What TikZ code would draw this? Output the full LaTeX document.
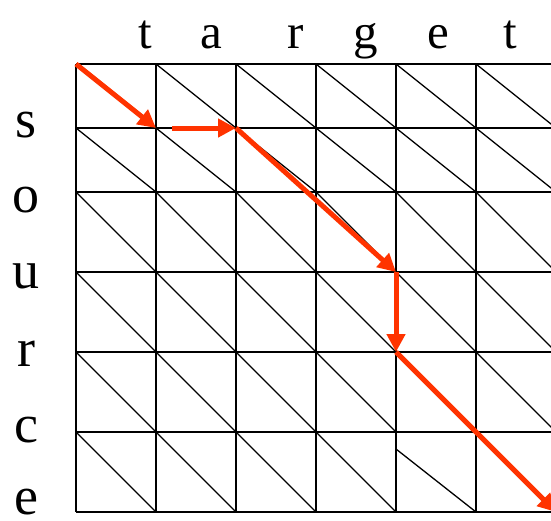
\documentclass[tikz,border=0pt]{standalone}
\usepackage{fontspec}
\setmainfont{Liberation Serif}
\usetikzlibrary{arrows.meta}
\definecolor{PathRed}{HTML}{FF3300}

\begin{document}
\begin{tikzpicture}[
    x=1pt, y=-1pt,
    gridline/.style={black, line width=2pt},
    diag/.style={black, line width=1.3pt},
    arr/.style={-{Triangle[length=18pt, width=18pt]}, line width=5pt, color=PathRed},
    topletter/.style={anchor=base, inner sep=0pt, font=\fontsize{49}{49}\selectfont},
    sideletter/.style={anchor=base, inner sep=0pt, font=\fontsize{54}{54}\selectfont}
]
\useasboundingbox (0,0) rectangle (551,520);
\clip (0,0) rectangle (551,520);

\foreach \i/\x in {0/76,1/156,2/236,3/316,4/396,5/476,6/556}
  \foreach \j/\y in {0/64,1/128,2/192,3/272,4/352,5/432,6/512}
    \coordinate (g-\i-\j) at (\x,\y);

\foreach \i in {0,...,6}
  \draw[gridline] (g-\i-0) -- (g-\i-6);
\foreach \j in {0,...,6}
  \draw[gridline] (g-0-\j) -- (g-6-\j);

\foreach \i/\ii in {0/1,1/2,2/3,3/4,4/5,5/6}
  \foreach \j/\jj in {0/1,1/2,2/3,3/4,4/5}
    \draw[diag] (g-\i-\j) -- (g-\ii-\jj);
\foreach \i/\ii in {0/1,1/2,2/3,3/4,5/6}
  \draw[diag] (g-\i-5) -- (g-\ii-6);
\draw[diag] ([yshift=-17pt]g-4-5) -- (g-5-6);

\draw[arr] (g-0-0) -- (g-1-1);
\draw[arr, shorten <=16pt] (g-1-1) -- (g-2-1);
\draw[arr] (g-2-1) -- (g-4-3);
\draw[arr] (g-4-3) -- (g-4-4);
\draw[arr] (g-4-4) -- (g-6-6);

\foreach \ch/\x [count=\k] in {t/145,a/211,r/296,g/366,e/438,t/510}
  \node[topletter] (tgt\k) at (\x,48) {\ch};
\foreach \ch/\y [count=\k] in {s/137,o/212,u/288,r/366,c/442,e/514}
  \node[sideletter] (src\k) at (26,\y) {\ch};

\end{tikzpicture}
\end{document}
